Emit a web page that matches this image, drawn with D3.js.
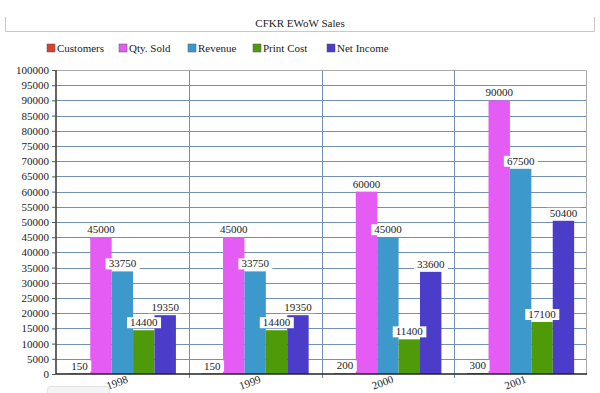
<!doctype html>
<html lang="en">
<head>
<meta charset="utf-8">
<title>CFKR EWoW Sales</title>
<style>
    body { margin: 0; background: #fff; }
    svg text { font-family: "Liberation Serif", "Times New Roman", "DejaVu Serif", serif; fill: #222; }
</style>
</head>
<body>
<svg width="600" height="393" id="chart"></svg>
<script src="https://cdn.jsdelivr.net/npm/d3@7"></script>
<script>
    const years = ["1998", "1999", "2000", "2001"];
    const seriesNames = ["Customers", "Qty. Sold", "Revenue", "Print Cost", "Net Income"];
    const seriesColors = ["#d9402e", "#e55cf5", "#3d98cc", "#4f9a08", "#4b3dca"];
    const customers = [150, 150, 200, 300];
    const qtySold = [45000, 45000, 60000, 90000];
    const revenue = [33750, 33750, 45000, 67500];
    const printCost = [14400, 14400, 11400, 17100];
    const netIncome = [19350, 19350, 33600, 50400];
    const yTicks = d3.range(0, 100001, 5000);

    const seriesValues = [customers, qtySold, revenue, printCost, netIncome];
    const serif = "'Liberation Serif', 'Times New Roman', 'DejaVu Serif', serif";

    const svg = d3.select("#chart");
    const margin = {top: 70, right: 13, bottom: 19, left: 56};
    const width = +svg.attr("width") - margin.left - margin.right;
    const height = +svg.attr("height") - margin.top - margin.bottom;

    // title box
    svg.append("path")
        .attr("d", "M5.5,17V31.5H594.5V17")
        .attr("fill", "none")
        .attr("stroke", "#c8c8c8")
        .attr("stroke-width", 1);
    svg.append("text")
        .attr("x", 300).attr("y", 27)
        .attr("text-anchor", "middle")
        .style("font-family", serif)
        .style("font-size", "11px")
        .text("CFKR EWoW Sales");

    // legend
    const legendX = [47, 119, 188, 253, 327];
    const legend = svg.append("g").selectAll("g")
        .data(seriesNames)
        .enter().append("g")
        .attr("transform", (d, i) => "translate(" + legendX[i] + ",44)");
    legend.append("rect")
        .attr("width", 8).attr("height", 8)
        .attr("fill", (d, i) => seriesColors[i])
        .attr("stroke", "#555").attr("stroke-width", 0.5);
    legend.append("text")
        .attr("x", 10).attr("y", 8)
        .style("font-family", serif)
        .style("font-size", "11px")
        .text(d => d);

    const g = svg.append("g")
        .attr("transform", "translate(" + margin.left + "," + margin.top + ")");

    const x0 = d3.scaleBand().domain(years).range([0, width]).padding(0);
    const x1 = d3.scaleBand().domain(seriesNames).range([0, x0.bandwidth()])
        .paddingInner(0).paddingOuter(0.6);
    const y = d3.scaleLinear().domain([0, 100000]).range([height, 0]);

    // grid
    g.append("g").selectAll("line")
        .data(yTicks.slice(1, -1))
        .enter().append("line")
        .attr("x1", 0).attr("x2", width)
        .attr("y1", d => Math.round(y(d)) + 0.5).attr("y2", d => Math.round(y(d)) + 0.5)
        .attr("stroke", "#7290b4").attr("stroke-width", 1);
    g.append("g").selectAll("line")
        .data(years.slice(1))
        .enter().append("line")
        .attr("x1", d => Math.round(x0(d)) + 0.5).attr("x2", d => Math.round(x0(d)) + 0.5)
        .attr("y1", 0).attr("y2", height + 4)
        .attr("stroke", "#7290b4").attr("stroke-width", 1);
    // top and right border
    g.append("path")
        .attr("d", "M0," + 0.5 + "H" + (width - 0.5) + "V" + height)
        .attr("fill", "none").attr("stroke", "#aaa").attr("stroke-width", 1);

    const cellData = years.map((yr, i) => seriesNames.map((s, j) => ({year: yr, series: s, j: j, value: seriesValues[j][i]})));

    // bars
    g.append("g").selectAll("g")
        .data(cellData)
        .enter().append("g")
        .attr("transform", (d, i) => "translate(" + x0(years[i]) + ",0)")
        .selectAll("rect")
        .data(d => d)
        .enter().append("rect")
        .attr("x", d => x1(d.series))
        .attr("width", x1.bandwidth())
        .attr("y", d => y(d.value))
        .attr("height", d => height - y(d.value))
        .attr("fill", d => seriesColors[d.j]);

    // value labels, drawn after every bar
    const labels = g.append("g").selectAll("g")
        .data(cellData.flat())
        .enter().append("g")
        .attr("transform", d => "translate(" + (x0(d.year) + x1(d.series) + x1.bandwidth() / 2) + "," + (y(d.value) - 4) + ")");
    labels.append("text")
        .attr("text-anchor", "middle")
        .style("font-family", serif)
        .style("font-size", "11px")
        .text(d => d.value)
        .each(function () {
            const b = this.getBBox();
            d3.select(this.parentNode).insert("rect", "text")
                .attr("x", b.x - 3).attr("y", b.y + 1)
                .attr("width", b.width + 6).attr("height", b.height - 1)
                .attr("fill", "#fff");
        });

    // y axis
    const yAxis = g.append("g")
        .call(d3.axisLeft(y).tickValues(yTicks).tickSize(4).tickFormat(d3.format("d")));
    yAxis.select(".domain").attr("stroke", "#333").attr("stroke-width", 1.5).attr("d", "M0," + height + "V0");
    yAxis.selectAll(".tick line").attr("stroke", "#555");
    yAxis.selectAll(".tick text")
        .style("font-family", serif)
        .style("font-size", "11px")
        .attr("fill", "#222");

    // x axis
    const xAxis = g.append("g")
        .attr("transform", "translate(0," + height + ")")
        .call(d3.axisBottom(x0).tickSize(0).tickPadding(0));
    xAxis.select(".domain").attr("stroke", "#222").attr("stroke-width", 1.5).attr("d", "M0,0H" + width);
    xAxis.selectAll(".tick text")
        .style("font-family", serif)
        .style("font-size", "11px")
        .attr("fill", "#222")
        .attr("text-anchor", "middle")
        .attr("dy", 0)
        .attr("transform", "translate(-4,12) rotate(-20)");

    // scrollbar-ish remnant at bottom
    svg.append("rect")
        .attr("x", 47.5).attr("y", 386.5).attr("width", 62).attr("height", 10).attr("rx", 3)
        .attr("fill", "#f4f4f4").attr("stroke", "#e2e2e2");
</script>
</body>
</html>
